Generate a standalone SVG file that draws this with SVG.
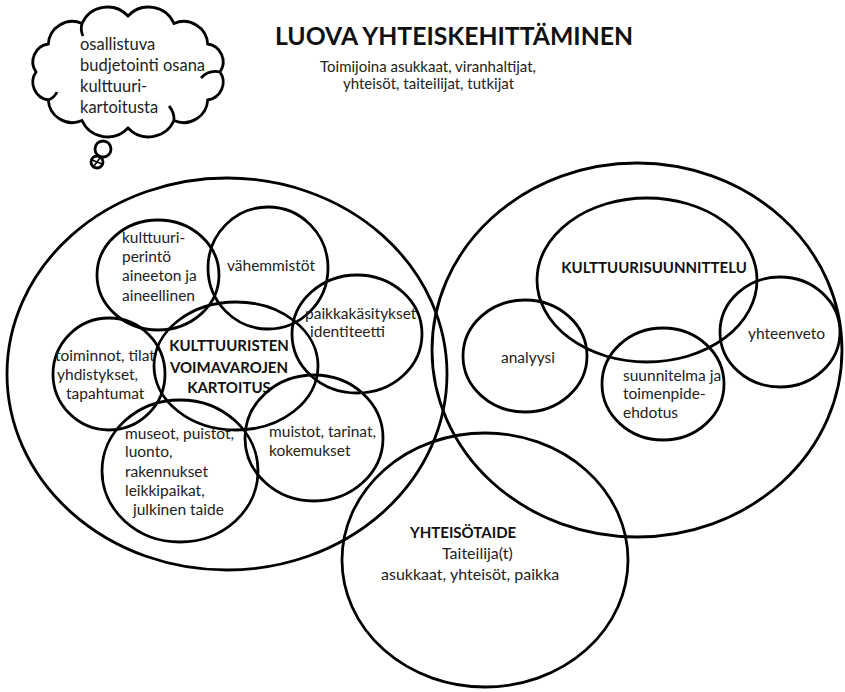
<svg xmlns="http://www.w3.org/2000/svg" width="845" height="692" viewBox="0 0 845 692">
<style>
.c{fill:none;stroke:#000;stroke-width:2.8}
.t{font-family:Lato,"Liberation Sans",sans-serif;font-size:15.5px;fill:#222}
.k{font-size:16.5px}
.b{font-family:Lato,"Liberation Sans",sans-serif;font-size:15px;font-weight:bold;fill:#111}
.h{font-family:Lato,"Liberation Sans",sans-serif;font-size:24px;font-weight:bold;fill:#111}
.m{text-anchor:middle}
</style>
<rect width="845" height="692" fill="#fff"/>
<g id="cloud">
<path class="c" d="M36,72 A18,18 0 0 1 48.3,44 A24,24 0 0 1 82,23.5 A28,28 0 0 1 128,16 A28,28 0 0 1 174,23.5 A24,24 0 0 1 207.7,44 A18,18 0 0 1 220,72 A18,18 0 0 1 207.7,100 A24,24 0 0 1 174,120.5 A28,28 0 0 1 128,128 A28,28 0 0 1 82,120.5 A24,24 0 0 1 48.3,100 A18,18 0 0 1 36,72 Z"/>
<path class="c" d="M220,72 A20,20 0 0 0 201,78 M174,120.5 A20,20 0 0 0 169,106 M48.3,100 A16,16 0 0 0 57,92 M82,23.5 A18,18 0 0 0 83,36"/>
<circle class="c" cx="103" cy="149" r="8"/>
<circle class="c" cx="97" cy="162" r="6"/>
<path class="c" d="M92,160 L102,164 M94,166 L100,158" style="stroke-width:1.5"/>
<text class="t k" x="80" y="50">osallistuva</text>
<text class="t k" x="80" y="71">budjetointi osana</text>
<text class="t k" x="80" y="92">kulttuuri-</text>
<text class="t k" x="80" y="113">kartoitusta</text>
</g>
<g id="title">
<text class="h" x="275" y="45" textLength="358" lengthAdjust="spacingAndGlyphs">LUOVA YHTEISKEHITTÄMINEN</text>
<text class="t" x="320" y="72" style="font-size:15px">Toimijoina asukkaat, viranhaltijat,</text>
<text class="t" x="343" y="89" style="font-size:15px">yhteisöt, taiteilijat, tutkijat</text>
</g>
<g id="voimavarat-alue"><ellipse class="c" cx="227" cy="374" rx="220" ry="196"/></g>
<g id="suunnittelu-alue"><ellipse class="c" cx="637" cy="350" rx="205" ry="187"/></g>
<g id="yhteisotaide">
<ellipse class="c" cx="485" cy="560" rx="143" ry="127"/>
<text class="b" x="410" y="538">YHTEISÖTAIDE</text>
<text class="t" x="442" y="559" style="font-size:16px">Taiteilija(t)</text>
<text class="t" x="381" y="580" style="font-size:16px">asukkaat, yhteisöt, paikka</text>
</g>
<g id="kulttuuriperinto">
<ellipse class="c" cx="158" cy="275" rx="61" ry="55"/>
<text class="t" x="122" y="243">kulttuuri-</text>
<text class="t" x="122" y="262">perintö</text>
<text class="t" x="122" y="281">aineeton ja</text>
<text class="t" x="122" y="301">aineellinen</text>
</g>
<g id="vahemmistot">
<ellipse class="c" cx="268" cy="268" rx="60" ry="61"/>
<text class="t" x="227" y="271">vähemmistöt</text>
</g>
<g id="paikkakasitykset">
<ellipse class="c" cx="357" cy="334" rx="65" ry="59"/>
<text class="t" x="305" y="319">paikkakäsitykset</text>
<text class="t" x="310" y="337">identiteetti</text>
</g>
<g id="kartoitus">
<ellipse class="c" cx="236" cy="366" rx="82" ry="64"/>
<text class="b m" x="229" y="351">KULTTUURISTEN</text>
<text class="b m" x="229" y="373">VOIMAVAROJEN</text>
<text class="b m" x="229" y="393">KARTOITUS</text>
</g>
<g id="toiminnot">
<ellipse class="c" cx="109" cy="374" rx="56" ry="56"/>
<text class="t" x="55" y="361">toiminnot, tilat</text>
<text class="t" x="57" y="380">yhdistykset,</text>
<text class="t" x="66" y="399">tapahtumat</text>
</g>
<g id="museot">
<ellipse class="c" cx="180" cy="471" rx="78" ry="71"/>
<text class="t" x="125" y="439">museot, puistot,</text>
<text class="t" x="125" y="457">luonto,</text>
<text class="t" x="125" y="477">rakennukset</text>
<text class="t" x="125" y="496">leikkipaikat,</text>
<text class="t" x="133" y="515">julkinen taide</text>
</g>
<g id="muistot">
<ellipse class="c" cx="314" cy="438" rx="69" ry="63"/>
<text class="t" x="269" y="437">muistot, tarinat,</text>
<text class="t" x="269" y="456">kokemukset</text>
</g>
<g id="kulttuurisuunnittelu">
<ellipse class="c" cx="647" cy="280" rx="110" ry="82"/>
<text class="b m" x="654" y="273">KULTTUURISUUNNITTELU</text>
</g>
<g id="analyysi">
<ellipse class="c" cx="525" cy="356" rx="62" ry="56"/>
<text class="t" x="501" y="363">analyysi</text>
</g>
<g id="suunnitelma">
<ellipse class="c" cx="663" cy="384" rx="61" ry="56"/>
<text class="t" x="623" y="381">suunnitelma ja</text>
<text class="t" x="623" y="399">toimenpide-</text>
<text class="t" x="623" y="418">ehdotus</text>
</g>
<g id="yhteenveto">
<ellipse class="c" cx="780" cy="332" rx="60" ry="55"/>
<text class="t" x="748" y="339">yhteenveto</text>
</g>
</svg>
